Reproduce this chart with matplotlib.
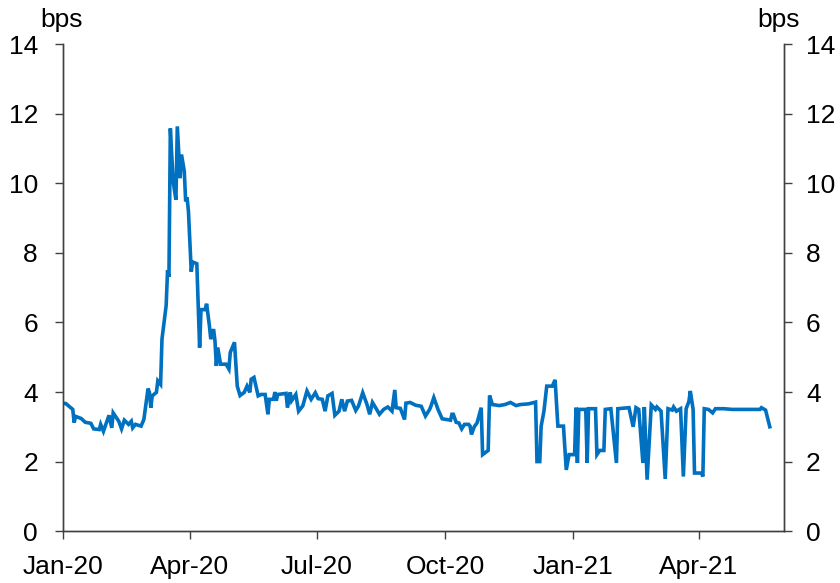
import numpy as np
import pandas as pd
import matplotlib
matplotlib.use('Agg')
import matplotlib.pyplot as plt
import matplotlib.dates as mdates

## values (bps)
dates = ['2020-01-01', '2020-01-03', '2020-01-08', '2020-01-09', '2020-01-10', '2020-01-14',
         '2020-01-17', '2020-01-21', '2020-01-23', '2020-01-27', '2020-01-28', '2020-01-30',
         '2020-02-03', '2020-02-05', '2020-02-06', '2020-02-10', '2020-02-12', '2020-02-14',
         '2020-02-17', '2020-02-19', '2020-02-20', '2020-02-22', '2020-02-26', '2020-02-28',
         '2020-03-02', '2020-03-03', '2020-03-04', '2020-03-05', '2020-03-08', '2020-03-09',
         '2020-03-11', '2020-03-12', '2020-03-15', '2020-03-16', '2020-03-17', '2020-03-18',
         '2020-03-20', '2020-03-22', '2020-03-23', '2020-03-25', '2020-03-26', '2020-03-28',
         '2020-03-29', '2020-03-30', '2020-03-31', '2020-04-02', '2020-04-03', '2020-04-06',
         '2020-04-08', '2020-04-09', '2020-04-12', '2020-04-13', '2020-04-15', '2020-04-16',
         '2020-04-18', '2020-04-19', '2020-04-20', '2020-04-21', '2020-04-23', '2020-04-27',
         '2020-04-29', '2020-04-30', '2020-05-03', '2020-05-05', '2020-05-07', '2020-05-10',
         '2020-05-12', '2020-05-14', '2020-05-15', '2020-05-17', '2020-05-20', '2020-05-22',
         '2020-05-25', '2020-05-27', '2020-05-28', '2020-05-31', '2020-06-01', '2020-06-02',
         '2020-06-03', '2020-06-09', '2020-06-10', '2020-06-12', '2020-06-13', '2020-06-16',
         '2020-06-18', '2020-06-21', '2020-06-23', '2020-06-24', '2020-06-27', '2020-06-30',
         '2020-07-02', '2020-07-05', '2020-07-07', '2020-07-09', '2020-07-12', '2020-07-14',
         '2020-07-17', '2020-07-19', '2020-07-21', '2020-07-23', '2020-07-26', '2020-07-29',
         '2020-07-31', '2020-08-03', '2020-08-06', '2020-08-08', '2020-08-10', '2020-08-13',
         '2020-08-15', '2020-08-18', '2020-08-21', '2020-08-24', '2020-08-26', '2020-08-27',
         '2020-08-30', '2020-09-02', '2020-09-03', '2020-09-06', '2020-09-10', '2020-09-14',
         '2020-09-17', '2020-09-20', '2020-09-21', '2020-09-23', '2020-09-26', '2020-09-29',
         '2020-10-02', '2020-10-05', '2020-10-06', '2020-10-07', '2020-10-09', '2020-10-11',
         '2020-10-13', '2020-10-15', '2020-10-18', '2020-10-19', '2020-10-20', '2020-10-22',
         '2020-10-24', '2020-10-27', '2020-10-28', '2020-10-31', '2020-11-01', '2020-11-02',
         '2020-11-04', '2020-11-09', '2020-11-13', '2020-11-17', '2020-11-21', '2020-11-24',
         '2020-11-30', '2020-12-05', '2020-12-06', '2020-12-08', '2020-12-09', '2020-12-11',
         '2020-12-13', '2020-12-17', '2020-12-19', '2020-12-21', '2020-12-25', '2020-12-27',
         '2020-12-29', '2021-01-02', '2021-01-03', '2021-01-04', '2021-01-05', '2021-01-10',
         '2021-01-11', '2021-01-12', '2021-01-17', '2021-01-18', '2021-01-20', '2021-01-23',
         '2021-01-24', '2021-01-28', '2021-02-01', '2021-02-02', '2021-02-10', '2021-02-13',
         '2021-02-15', '2021-02-17', '2021-02-20', '2021-02-21', '2021-02-23', '2021-02-26',
         '2021-03-01', '2021-03-02', '2021-03-05', '2021-03-08', '2021-03-10', '2021-03-13',
         '2021-03-14', '2021-03-16', '2021-03-19', '2021-03-21', '2021-03-23', '2021-03-25',
         '2021-03-26', '2021-03-28', '2021-03-29', '2021-04-03', '2021-04-04', '2021-04-05',
         '2021-04-08', '2021-04-11', '2021-04-13', '2021-04-19', '2021-04-25', '2021-05-01',
         '2021-05-07', '2021-05-15', '2021-05-16', '2021-05-19', '2021-05-22']

spread = [3.67, 3.67, 3.50, 3.12, 3.30, 3.24,
          3.13, 3.10, 2.94, 2.92, 3.07, 2.87,
          3.33, 2.97, 3.40, 3.16, 2.94, 3.19,
          3.07, 3.16, 2.97, 3.07, 3.02, 3.21,
          4.10, 3.99, 3.55, 3.89, 3.99, 4.32,
          4.22, 5.52, 6.49, 7.50, 7.31, 11.58,
          10.06, 9.53, 11.64, 10.15, 10.83, 10.35,
          9.48, 9.60, 9.19, 7.46, 7.74, 7.69,
          5.28, 6.37, 6.37, 6.54, 5.91, 5.52,
          5.81, 5.48, 4.75, 5.28, 4.80, 4.80,
          4.66, 5.14, 5.43, 4.17, 3.90, 3.99,
          4.17, 3.99, 4.37, 4.42, 3.89, 3.93,
          3.93, 3.36, 3.79, 3.79, 4.00, 3.75,
          3.93, 3.96, 3.55, 3.99, 3.75, 3.93,
          3.45, 3.60, 3.89, 4.03, 3.79, 3.98,
          3.81, 3.79, 3.45, 3.89, 3.96, 3.33,
          3.45, 3.79, 3.45, 3.74, 3.76, 3.47,
          3.60, 3.98, 3.65, 3.36, 3.70, 3.50,
          3.36, 3.50, 3.57, 3.45, 4.06, 3.55,
          3.53, 3.21, 3.68, 3.70, 3.62, 3.59,
          3.31, 3.50, 3.60, 3.84, 3.50, 3.23,
          3.21, 3.19, 3.36, 3.36, 3.13, 3.11,
          2.94, 3.07, 3.07, 3.02, 2.78, 3.00,
          3.11, 3.55, 2.20, 2.29, 2.32, 3.90,
          3.64, 3.61, 3.64, 3.70, 3.61, 3.64,
          3.66, 3.71, 2.00, 2.00, 3.02, 3.45,
          4.17, 4.17, 4.35, 3.02, 3.02, 1.76,
          2.20, 2.20, 3.55, 1.96, 3.50, 3.50,
          1.96, 3.52, 3.52, 2.20, 2.32, 2.32,
          3.50, 3.52, 1.96, 3.52, 3.55, 3.00,
          3.55, 3.50, 1.96, 3.57, 1.48, 3.63,
          3.50, 3.57, 3.45, 1.50, 3.52, 3.48,
          3.57, 3.45, 3.52, 1.57, 3.52, 3.73,
          4.03, 3.50, 1.67, 1.67, 1.57, 3.52,
          3.50, 3.40, 3.52, 3.52, 3.50, 3.50,
          3.50, 3.50, 3.55, 3.48, 3.00]

x_ticks = ['2020-01-01', '2020-04-01', '2020-07-01', '2020-10-01', '2021-01-01', '2021-04-01']
y_ticks = [0, 2, 4, 6, 8, 10, 12, 14]

plt.rcParams['font.family'] = ['Liberation Sans', 'DejaVu Sans']
plt.rcParams['font.size'] = 19

fig = plt.figure(figsize=(8.4, 5.83), dpi=100)
ax = fig.add_axes([0.075, 0.089, 0.858, 0.835])

ax.plot(pd.to_datetime(dates), spread, color='#0070C0', lw=2.6, solid_joinstyle='miter')

ax.set_xlim(pd.Timestamp('2020-01-01'), pd.Timestamp('2021-06-01'))
ax.set_ylim(0, 14)
ax.set_xticks(pd.to_datetime(x_ticks))
ax.xaxis.set_major_formatter(mdates.DateFormatter('%b-%y'))
ax.set_yticks(y_ticks)

ax2 = ax.twinx()
ax2.set_ylim(0, 14)
ax2.set_yticks(y_ticks)

spine_col = '#404040'
for a in (ax, ax2):
    a.spines['top'].set_visible(False)
    for s in ('left', 'right', 'bottom'):
        a.spines[s].set_color(spine_col)
        a.spines[s].set_linewidth(1.0)

ax.tick_params(axis='y', direction='out', length=6, width=1, color=spine_col, pad=12)
ax.tick_params(axis='x', direction='out', length=6, width=1, color=spine_col, pad=11)
ax2.tick_params(axis='y', direction='out', length=6, width=1, color=spine_col, pad=10)

fig.text(40 / 840, 1 - 27 / 583, 'bps', ha='left', va='baseline', fontsize=19)
fig.text(800 / 840, 1 - 27 / 583, 'bps', ha='right', va='baseline', fontsize=19)

fig.savefig('out.png', dpi=100)
